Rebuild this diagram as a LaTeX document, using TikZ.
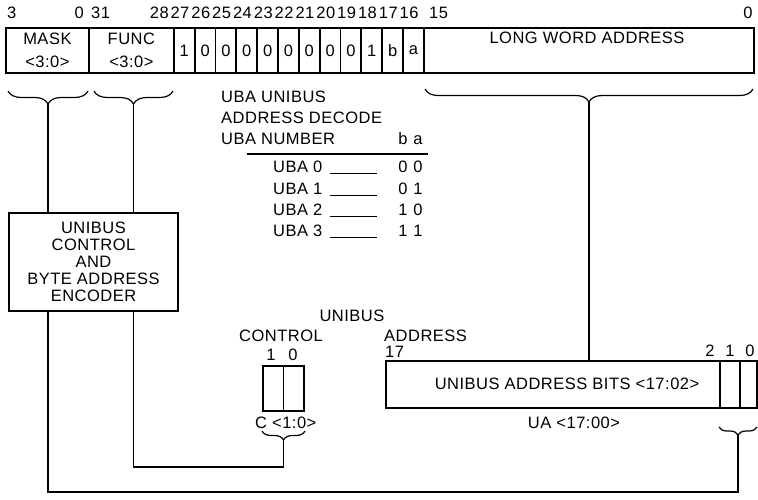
\documentclass[tikz,border=0pt]{standalone}
\usepackage{fontspec}
\setmainfont{Liberation Sans}[LetterSpace=3]
\usetikzlibrary{decorations.pathreplacing}

\begin{document}
\begin{tikzpicture}[x=1pt, y=-1pt, font=\fontsize{16.5}{17}\selectfont,
  box/.style={draw, line width=1.8pt, inner sep=0pt, anchor=north west, align=center},
  lbl/.style={inner sep=0pt, anchor=base},
  brc/.style={decorate, decoration={brace, mirror, amplitude=#1}, line width=1.2pt},
  brc/.default=13pt,
  wire/.style={line width=1.3pt}]
\useasboundingbox (0,0) rectangle (758,500);
% Langwort-Register oben
\node[box, minimum width=83pt, minimum height=45pt] (mask) at (5,27) {MASK\\[6pt]<3:0>};
\node[box, minimum width=85pt, minimum height=45pt] (func) at (88,27) {FUNC\\[6pt]<3:0>};
\foreach \v [count=\i from 0, evaluate=\i as \nr using int(27-\i)] in {1,0,0,0,0,0,0,0,0,1,b,a}{
  \node[box, minimum width=20.83pt, minimum height=45pt] (c\i) at ({173+\i*20.83},27) {\v};
  \node[lbl] (n\nr) at ({180+\i*20.83},19) {\nr};
}
\node[box, minimum width=330pt, minimum height=45pt] (lwa) at (423,27) {};
\node[lbl] (lwatxt) at (587,44) {LONG WORD ADDRESS};
% Bitnummern
\node[lbl, anchor=base west] (n3) at (7,19) {3};
\node[lbl, anchor=base east] (n0m) at (84,19) {0};
\node[lbl, anchor=base west] (n31) at (91,19) {31};
\node[lbl, anchor=base east] (n28) at (169,19) {28};
\node[lbl, anchor=base west] (n15) at (429,19) {15};
\node[lbl] (n0) at (748,19) {0};
% Klammern unter dem Register
\draw[brc] (8,91) -- (88,91) coordinate[midway, yshift=-13pt] (mtip);
\draw[brc] (94,91) -- (173,91) coordinate[midway, yshift=-13pt] (ftip);
\draw[brc] (425,89) -- (753,89) coordinate[pos=0.5, yshift=-13pt] (ltip);
% Tabelle
\node[lbl, anchor=base west] (t1) at (221,103) {UBA UNIBUS};
\node[lbl, anchor=base west] (t2) at (221,124) {ADDRESS DECODE};
\node[lbl, anchor=base west] (t3) at (221,145) {UBA NUMBER};
\node[lbl] (hb) at (403,145) {b};
\node[lbl] (ha) at (418,145) {a};
\draw[line width=1.2pt] (247,154) -- (428,154);
\foreach \n/\b/\a [count=\k] in {0/0/0, 1/0/1, 2/1/0, 3/1/1}{
  \node[lbl, anchor=base west] (uba\n) at (273,{152+21*\k}) {UBA \n};
  \node[lbl] (b\n) at (403,{152+21*\k}) {\b};
  \node[lbl] (a\n) at (418,{152+21*\k}) {\a};
  \draw[line width=1pt] (330,{153+21*\k}) -- (377,{153+21*\k});
}
% Encoder
\node[box, line width=2pt, minimum width=169pt, minimum height=98pt] (enc) at (8,212)
  {UNIBUS\\CONTROL\\AND\\BYTE ADDRESS\\ENCODER};
% UNIBUS Control und Adresse
\node[lbl] (ubus) at (352,321) {UNIBUS};
\node[lbl] (ctl) at (281,341) {CONTROL};
\node[lbl, anchor=base west] (adr) at (384,341) {ADDRESS};
\node[lbl] (k1) at (271,360) {1};
\node[lbl] (k0) at (293,360) {0};
\node[lbl, anchor=base west] (k17) at (385,357) {17};
\node[box, minimum width=20.5pt, minimum height=45pt] (cc1) at (262,365) {};
\node[box, minimum width=20.5pt, minimum height=45pt] (cc0) at (282.5,365) {};
\node[lbl, anchor=base west] (ctxt) at (255,428) {C <1:0>};
\draw[brc=9pt] (262,431) -- (305,431) coordinate[midway, yshift=-9pt] (ctip);
\node[lbl] (u2) at (710,356) {2};
\node[lbl] (u1) at (730,356) {1};
\node[lbl] (u0) at (750,356) {0};
\node[box, minimum width=334pt, minimum height=47pt] (ua) at (385,360) {};
\node[box, minimum width=20pt, minimum height=47pt] (ub1) at (719,360) {};
\node[box, minimum width=17pt, minimum height=47pt] (ub0) at (739,360) {};
\node[lbl] (uatxt) at (567,389) {UNIBUS ADDRESS BITS <17:02>};
\node[lbl] (uarng) at (574,428) {UA <17:00>};
\draw[brc=8pt] (719,427) -- (757,427) coordinate[midway, yshift=-8pt] (btip);
% Verbindungen
\coordinate (low1) at (0,467);
\coordinate (low2) at (0,492);
\draw[wire] (mtip) -- (mtip |- enc.north);
\draw[wire] (ftip) -- (ftip |- enc.north);
\draw[wire] (ltip) -- (ltip |- ua.north);
\draw[wire] (ftip |- enc.south) -- (ftip |- low1) -| (ctip);
\draw[wire] (mtip |- enc.south) -- (mtip |- low2) -| (btip);
\end{tikzpicture}
\end{document}
